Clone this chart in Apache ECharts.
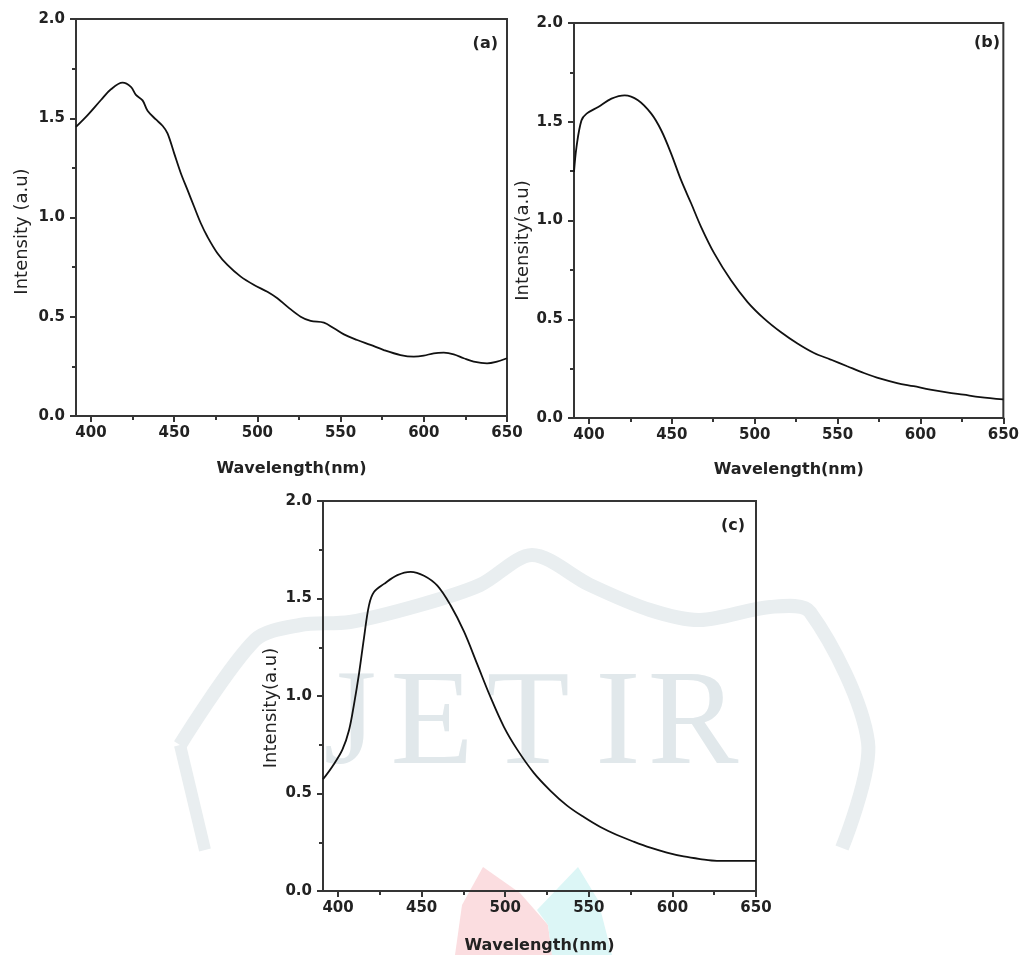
<!DOCTYPE html>
<html><head><meta charset="utf-8">
<script src="https://cdn.jsdelivr.net/npm/echarts@6/dist/echarts.min.js"></script>
<style>html,body{margin:0;padding:0;background:#fff}#main{width:1022px;height:955px}</style>
</head><body><div id="main"></div>
<script>
// ---- tick labels / texts ----
const xTicks = [400, 450, 500, 550, 600, 650];
const panelLabels = ['(a)', '(b)', '(c)'];
const xTitle = 'Wavelength(nm)';
const yTitles = ['Intensity (a.u)', 'Intensity(a.u)', 'Intensity(a.u)'];

// ---- panel (a) ----
const aWave = [391,398,406,412,419,424,427,431,434,439,443,446,450,454,458,462,466,470,476,482,490,498,506,512,518,526,532,540,546,552,560,568,576,586,594,600,606,612,618,624,630,638,644,650];
const aInt  = [1.457,1.516,1.592,1.646,1.679,1.658,1.618,1.590,1.538,1.494,1.462,1.424,1.323,1.223,1.139,1.054,0.971,0.903,0.820,0.761,0.702,0.660,0.626,0.593,0.551,0.500,0.479,0.470,0.442,0.411,0.383,0.358,0.332,0.307,0.299,0.304,0.316,0.319,0.311,0.291,0.274,0.265,0.274,0.291];

// ---- panel (b) ----
const bWave = [391,392.5,395.5,398.6,405.6,413.6,421.6,429.6,437.6,443.6,449.6,455.6,461.7,467.7,475.7,485.7,495.7,505.7,515.7,525.8,535.8,545.8,555.8,565.9,575.9,585.9,595.9,605.9,615.9,626,636,650];
const bInt  = [1.246,1.372,1.507,1.541,1.575,1.617,1.634,1.609,1.541,1.457,1.339,1.204,1.086,0.967,0.832,0.697,0.587,0.503,0.435,0.377,0.329,0.296,0.262,0.228,0.199,0.177,0.161,0.144,0.130,0.118,0.106,0.094];

// ---- panel (c) ----
const cWave = [391,396.7,402.6,406.6,409.6,412.5,415.5,418.5,421.5,427.5,435.5,443.4,451.4,459.4,467.3,475.3,483.3,491.2,499.2,507.2,517.1,527.1,537,547,556.9,566.9,576.8,586.8,596.7,606.7,616.6,626.6,636.6,650];
const cInt  = [0.573,0.640,0.725,0.826,0.960,1.112,1.297,1.465,1.533,1.575,1.620,1.637,1.617,1.566,1.465,1.331,1.162,0.994,0.842,0.725,0.606,0.514,0.438,0.379,0.328,0.287,0.253,0.222,0.197,0.177,0.164,0.155,0.155,0.155];

const waves = [aWave, bWave, cWave];
const ints = [aInt, bInt, cInt];

const AX = '#353535';
const TXT = '#222';
const WM = '#e9eef0';
const grids = [
  {left: 76, top: 19, width: 431, height: 397},
  {left: 574, top: 23, width: 433, height: 395},
  {left: 323, top: 501, width: 433, height: 396}
];
const xNameGap = [45, 44, 47];
const yNameGap = [45, 40, 43];
const yNameShift = [14, 20, 12];

const chart = echarts.init(document.getElementById('main'), null, {renderer: 'canvas'});

const letterStyle = (t, x) => ({type: 'text', z: -4, style: {text: t, x: x, y: 795, textAlign: 'center', textVerticalAlign: 'bottom', font: '136px "Liberation Serif"', fill: '#e1e8eb'}});

const option = {
  animation: false,
  backgroundColor: '#fff',
  grid: grids.map(g => Object.assign({show: true, borderColor: AX, borderWidth: 2, backgroundColor: 'transparent'}, g)),
  xAxis: grids.map((g, i) => ({
    type: 'value', gridIndex: i, min: 391, max: 650,
    name: xTitle, nameLocation: 'middle', nameGap: xNameGap[i],
    nameTextStyle: {fontFamily: 'DejaVu Sans', fontWeight: 'bold', fontSize: 16, color: TXT},
    axisLine: {show: true, onZero: false, lineStyle: {color: AX, width: 2}},
    axisTick: {show: true, inside: false, length: 6, customValues: xTicks, lineStyle: {color: AX, width: 2}},
    minorTick: {show: true, splitNumber: 2, length: 4, lineStyle: {color: AX, width: 2}},
    axisLabel: {customValues: xTicks, margin: 10, fontFamily: 'DejaVu Sans', fontWeight: 'bold', fontSize: 15, color: TXT},
    splitLine: {show: false}, minorSplitLine: {show: false}
  })),
  yAxis: grids.map((g, i) => ({
    type: 'value', gridIndex: i, min: 0, max: 2, interval: 0.5,
    name: yTitles[i], nameLocation: 'middle', nameGap: yNameGap[i],
    nameTextStyle: {fontFamily: 'DejaVu Sans', fontWeight: 'normal', fontSize: 18, color: TXT, padding: [0, yNameShift[i] * 2, 0, 0]},
    axisLine: {show: true, onZero: false, lineStyle: {color: AX, width: 2}},
    axisTick: {show: true, inside: false, length: 6, lineStyle: {color: AX, width: 2}},
    minorTick: {show: true, splitNumber: 2, length: 4, lineStyle: {color: AX, width: 2}},
    axisLabel: {margin: 11, fontFamily: 'DejaVu Sans', fontWeight: 'bold', fontSize: 15, color: TXT,
      formatter: v => v.toFixed(1)},
    splitLine: {show: false}, minorSplitLine: {show: false}
  })),
  series: waves.map((w, i) => ({
    type: 'line', xAxisIndex: i, yAxisIndex: i,
    data: w.map((x, k) => [x, ints[i][k]]),
    showSymbol: false, smooth: 0.35,
    lineStyle: {color: '#111', width: 1.8},
    z: 5
  })),
  graphic: [
    // watermark (background)
    {type: 'polyline', z: -5, shape: {points: [[180,745],[255,640],[300,625],[350,622],[420,605],[480,585],[532,555],[590,585],[650,610],[700,620],[770,607],[810,612],[868,742],[842,848]], smooth: 0.3},
      style: {stroke: WM, lineWidth: 14, fill: null}},
    {type: 'polyline', z: -5, shape: {points: [[180,745],[205,850]]}, style: {stroke: WM, lineWidth: 12, fill: null}},
    {type: 'polygon', z: -5, shape: {points: [[483,867],[520,893],[548,925],[552,955],[455,955],[462,905]]}, style: {fill: '#fbdde0'}},
    {type: 'polygon', z: -5, shape: {points: [[578,867],[598,900],[612,955],[552,955],[548,925],[537,910]]}, style: {fill: '#dcf6f6'}},
    letterStyle('J', 350), letterStyle('E', 432), letterStyle('T', 528), letterStyle('I', 618), letterStyle('R', 693),
    // panel labels
    {type: 'text', z: 10, style: {text: panelLabels[0], x: 498, y: 36, textAlign: 'right', textVerticalAlign: 'top', font: 'bold 16px "DejaVu Sans"', fill: TXT}},
    {type: 'text', z: 10, style: {text: panelLabels[1], x: 1000, y: 35, textAlign: 'right', textVerticalAlign: 'top', font: 'bold 16px "DejaVu Sans"', fill: TXT}},
    {type: 'text', z: 10, style: {text: panelLabels[2], x: 745, y: 518, textAlign: 'right', textVerticalAlign: 'top', font: 'bold 16px "DejaVu Sans"', fill: TXT}}
  ]
};
chart.setOption(option);
</script>
</body></html>
